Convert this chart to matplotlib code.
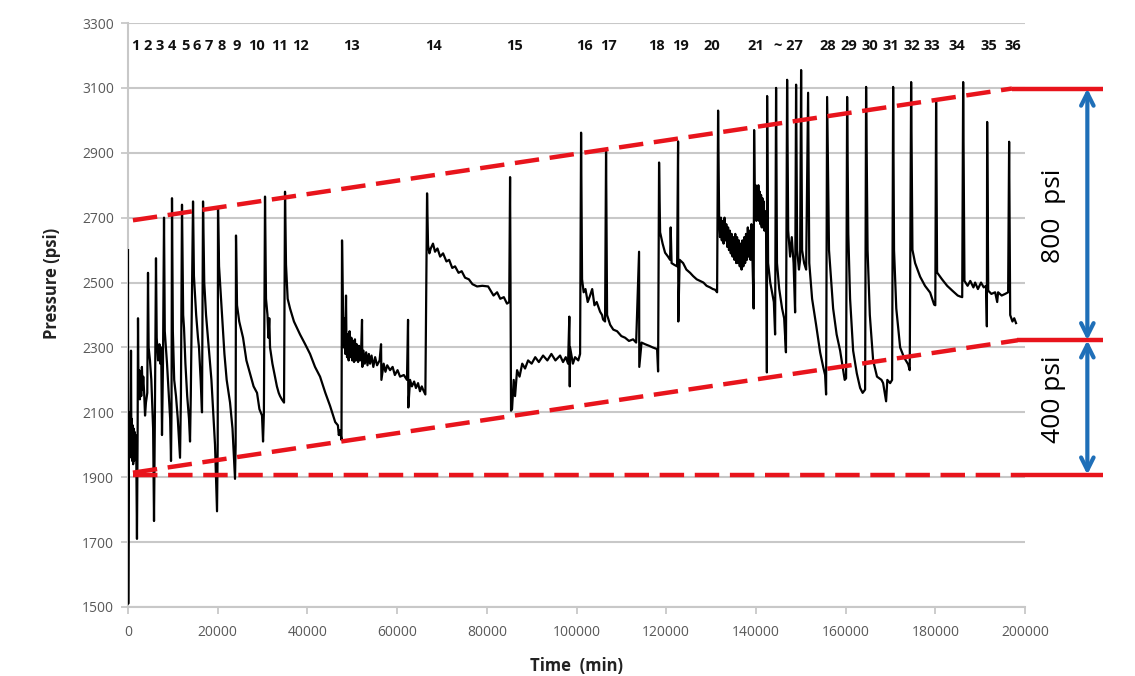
import matplotlib
matplotlib.use("Agg")
import matplotlib.pyplot as plt

# ---------------- data ----------------
time_min = [
    0, 50, 150, 250, 350, 450, 550, 670, 750, 850, 950, 1050, 1150, 1250, 1350, 1450, 1550, 1700, 1850, 2000,
    2150, 2230, 2350, 2500, 2650, 2800, 2950, 3100, 3250, 3400, 3600, 3800, 4000,
    4300, 4460, 4600, 4900, 5200, 5600, 5800, 6000, 6240, 6400, 6700, 7000, 7200, 7400, 7580, 7800, 8030, 8200, 8700,
    9100, 9400, 9590, 9700, 9810, 10000, 10300, 10700, 11100, 11600, 11800, 12040, 12300, 12490, 12800, 13200, 13600,
    13830, 14000, 14500, 14700, 15200, 15600, 15830, 16200, 16500, 16730, 17000, 17400, 18000, 18600, 19000, 19400,
    19850, 20000, 20070, 20300, 20960, 21500, 22000, 22750, 23300, 23860, 24000, 24080, 24310, 24800, 25650, 26400,
    27210, 28000, 28770, 29300, 29880, 30110, 30300, 30550, 30770, 31100, 31300, 31500, 31670, 32200, 32780, 33200,
    33600, 33900, 34300, 34790, 35010, 35230, 35600, 36130, 37000, 38360, 39500, 40590, 41700, 42820, 44000, 45050,
    46200, 46800, 47000, 47280, 47600, 47720,
    47950, 48100, 48300, 48450, 48610, 48700, 48840, 49000, 49200, 49400, 49600, 49800, 50000, 50200, 50400, 50600,
    50800, 51000, 51300, 51500, 51740, 52000, 52180, 52250, 52500, 52800, 53100, 53400, 53700, 53970, 54300, 54700,
    55100, 55530, 56100, 56420, 56500, 57000, 57400, 57800, 58430, 59000, 59500, 60100, 60660, 61500, 62200, 62440,
    62500, 62890, 63300, 63800, 64200, 64670, 65100, 65500, 65790, 66300, 66680,
    66900, 67200, 67500, 68000, 68460, 69000, 69600, 70250, 71000, 71600, 72300, 72920, 73700, 74400, 75150, 76000,
    76800, 77830, 79000, 80300, 81500, 82300, 83000, 83800, 84500, 85000, 85190,
    85400, 85630, 86000, 86300, 86750, 87300, 87900, 88530, 89200, 90000, 90800, 91600, 92550, 93500, 94400, 95300,
    96340, 97000, 97600, 98120, 98400, 98500, 98570, 99200, 99680, 100400, 100800, 101020,
    101240, 101600, 102000, 102500, 103030, 103500, 104000, 104500, 105260, 105700, 105930, 106370, 106590,
    106820, 107500, 108200, 109050, 110000, 110830, 111700, 112620, 113300, 113950, 114000, 114500, 115290, 116200,
    117000, 117970, 118190, 118410,
    118640, 119200, 119750, 120400, 120870, 121000, 121200, 121760, 122430, 122650, 122700,
    123000, 123770, 124500, 125330, 126000, 126800, 127560, 128300, 129000, 129790, 130400, 130900, 131350, 131570,
    131800, 132000, 132200, 132400, 132600, 132800, 133000, 133200, 133400, 133600, 133800, 134000, 134200, 134400,
    134600, 134800, 135000, 135200, 135400, 135600, 135800, 136000, 136200, 136400, 136600, 136800, 137000, 137200,
    137400, 137600, 137800, 138000, 138200, 138400, 138600, 138800, 139000, 139200, 139500, 139600, 139800, 139950,
    140100, 140250, 140400, 140550, 140700, 140850, 141000, 141150, 141300, 141450, 141600, 141750, 141900, 142050,
    142300, 142450, 142500,
    142720, 143200, 143610, 144000, 144280, 144500, 144700, 145200, 145840, 146300, 146700, 146960, 147200, 147630,
    148000, 148400, 148740, 148960, 149200, 149600, 149860, 150080, 150300, 150750, 151200, 151640, 151900, 152530,
    153420, 154320, 155000, 155430, 155650, 155880, 156300, 157220, 158000, 158780, 159450, 159800, 160110, 160340,
    160600, 161000, 161680, 162500, 163240, 163800, 164350, 164570, 164900, 165400, 166140, 167000, 168000, 168370,
    169030, 169300, 169930, 170370, 170600, 170800, 171300, 172160, 173000, 173940, 174300, 174610, 174900, 175500,
    176620, 177700, 178850, 179740, 180000, 180180, 180400, 181500, 182640, 183800, 185000, 185540, 186000, 186210,
    186500, 187200, 187800, 188500, 188880, 189500, 190200, 190800, 191330, 191500, 191560, 191800, 192500, 193340,
    193800, 194000, 194800, 195570, 196240, 196460, 196700, 197200, 197600, 198000,
]
pressure_psi = [
    2600, 1510, 1900, 2080, 1960, 2100, 1980, 2290, 1990, 2080, 1950, 2060, 1940, 2050, 1950, 2040, 1960, 2030, 1960, 1710,
    2050, 2390, 2150, 2230, 2140, 2220, 2150, 2240, 2170, 2210, 2160, 2090, 2130,
    2160, 2530, 2300, 2260, 2200, 2050, 1765, 2100, 2575, 2330, 2260, 2310, 2250, 2300, 2030, 2250, 2700, 2350, 2250,
    2150, 2080, 1950, 2100, 2760, 2350, 2200, 2150, 2080, 1960, 2150, 2740, 2400, 2360, 2250, 2150, 2080,
    2010, 2150, 2750, 2520, 2400, 2330, 2300, 2200, 2100, 2750, 2500, 2400, 2300, 2200, 2100, 2000,
    1795, 2000, 2730, 2550, 2400, 2280, 2200, 2130, 2050, 1895, 2000, 2645, 2430, 2380, 2330, 2260,
    2220, 2180, 2160, 2110, 2090, 2010, 2100, 2765, 2450, 2400, 2330, 2390, 2300, 2250, 2210, 2180,
    2160, 2150, 2140, 2130, 2780, 2555, 2450, 2420, 2380, 2340, 2310, 2280, 2240, 2210, 2160, 2120,
    2070, 2060, 2030, 2045, 2015, 2630,
    2410, 2300, 2390, 2280, 2460, 2330, 2270, 2340, 2260, 2350, 2270, 2330, 2260, 2320, 2255, 2325,
    2260, 2310, 2255, 2305, 2260, 2300, 2385, 2240, 2290, 2250, 2285, 2245, 2280, 2250, 2275, 2240,
    2270, 2245, 2260, 2310, 2200, 2250, 2225, 2245, 2230, 2240, 2215, 2230, 2210, 2215, 2200, 2385,
    2115, 2200, 2180, 2195, 2175, 2190, 2165, 2180, 2170, 2155, 2775,
    2615, 2590, 2605, 2620, 2595, 2605, 2580, 2590, 2565, 2570, 2545, 2550, 2530, 2535, 2515, 2510,
    2495, 2488, 2490, 2488, 2460, 2470, 2450, 2455, 2435, 2440, 2825,
    2105, 2110, 2200, 2150, 2230, 2210, 2250, 2235, 2260, 2250, 2270, 2255, 2275, 2260, 2280, 2260,
    2275, 2255, 2270, 2250, 2395, 2180, 2300, 2250, 2270, 2260, 2280, 2962,
    2510, 2470, 2480, 2440, 2460, 2480, 2430, 2440, 2410, 2400, 2386, 2380, 2905,
    2400, 2370, 2355, 2350, 2335, 2330, 2320, 2325, 2315, 2595, 2240, 2315, 2310, 2305,
    2300, 2295, 2226, 2870,
    2655, 2620, 2592, 2580, 2570, 2670, 2560, 2555, 2550, 2935, 2380,
    2570, 2560, 2540, 2530, 2520, 2510, 2505, 2500, 2490, 2485, 2480, 2478, 2470, 3030,
    2700, 2640, 2700, 2630, 2690, 2620, 2700, 2630, 2680, 2610, 2670, 2600, 2660, 2590,
    2650, 2580, 2640, 2570, 2650, 2560, 2640, 2560, 2630, 2550, 2620, 2540, 2630, 2550,
    2640, 2560, 2650, 2570, 2670, 2580, 2660, 2570, 2680, 2590, 2420, 2970, 2700, 2800,
    2690, 2790, 2700, 2800, 2690, 2780, 2680, 2770, 2670, 2760, 2670, 2750, 2660, 2720,
    2640, 2223, 3075,
    2560, 2500, 2470, 2440, 2340, 3100, 2560, 2480, 2420, 2390, 2285, 3125, 2660, 2580,
    2640, 2560, 2408, 3110, 2600, 2540, 2570, 3155, 2600, 2560, 2540, 3085, 2560, 2450,
    2370, 2285, 2240, 2215, 2155, 3072, 2600, 2420, 2340, 2290, 2232, 2200, 2205, 3072,
    2650, 2450, 2290, 2220, 2175, 2160, 2170, 3103, 2600, 2400, 2260, 2210, 2200, 2190,
    2134, 2200, 2190, 2200, 3103, 2600, 2420, 2300, 2270, 2248, 2230, 3118, 2601, 2560,
    2518, 2490, 2469, 2432, 2430, 3057, 2531, 2510, 2490, 2475, 2460, 2457, 2455, 3118,
    2505, 2490, 2505, 2485, 2500, 2480, 2500, 2485, 2490, 2365, 2995, 2475, 2465, 2470,
    2440, 2470, 2460, 2465, 2470, 2934, 2400, 2380, 2390, 2375,
]

event_labels = ["1", "2", "3", "4", "5", "6", "7", "8", "9", "10", "11", "12", "13", "14", "15", "16", "17",
                "18", "19", "20", "21", "~ 27", "28", "29", "30", "31", "32", "33", "34", "35", "36"]
event_times = [1560, 4460, 7150, 9810, 12700, 15380, 18060, 20960, 24300, 28550, 33670, 38360, 49730, 68010,
               86080, 101690, 107040, 117750, 123100, 130230, 140040, 147180, 156100, 160780, 165470, 170150,
               174830, 179290, 184870, 192000, 197350]

upper_env_t = [1100, 197100, 217400]
upper_env_p = [2692, 3098, 3098]
lower_env_t = [1100, 198300, 217400]
lower_env_p = [1914, 2322, 2322]
base_env_t = [1100, 198300, 217400]
base_env_p = [1908, 1908, 1908]

arrow_t = 213900
span_labels = ["800  psi", "400 psi"]

x_ticks = [0, 20000, 40000, 60000, 80000, 100000, 120000, 140000, 160000, 180000, 200000]
y_ticks = [1500, 1700, 1900, 2100, 2300, 2500, 2700, 2900, 3100, 3300]

# ---------------- drawing ----------------
plt.rcParams['font.family'] = ['Open Sans', 'DejaVu Sans']
fig = plt.figure(figsize=(11.35, 6.76), dpi=100)
ax = fig.add_axes([128 / 1135, 1 - 607 / 676, (1025 - 128) / 1135, (607 - 23) / 676])
ax.set_xlim(0, 200000)
ax.set_ylim(1500, 3300)

grid_c = '#c8c8c8'
ax.set_yticks(y_ticks)
ax.set_xticks(x_ticks)
ax.yaxis.grid(True, color=grid_c, lw=1.5)
ax.set_axisbelow(True)
for s in ['top', 'right']:
    ax.spines[s].set_visible(False)
for s in ['left', 'bottom']:
    ax.spines[s].set_color(grid_c)
    ax.spines[s].set_linewidth(1.5)
ax.tick_params(axis='both', colors=grid_c, length=5, width=1.3, direction='out')
ax.tick_params(axis='both', labelcolor='#595959', labelsize=10)
ax.tick_params(axis='y', pad=5)
ax.tick_params(axis='x', pad=8)

ax.plot(time_min, pressure_psi, color='black', lw=1.6, zorder=3)

red = '#e8141c'
for tt, pp in [(upper_env_t, upper_env_p), (lower_env_t, lower_env_p), (base_env_t, base_env_p)]:
    ax.plot(tt[:2], pp[:2], color=red, lw=3.2, ls=(0, (5.5, 2.4)), zorder=4, clip_on=False)
    ax.plot(tt[1:], pp[1:], color=red, lw=3.2, ls='-', zorder=4, clip_on=False, solid_capstyle='butt')

blue = '#1f6fb8'
for p0, p1 in [(upper_env_p[2], lower_env_p[2]), (lower_env_p[2], base_env_p[2])]:
    ax.annotate('', xy=(arrow_t, p1), xytext=(arrow_t, p0), annotation_clip=False,
                arrowprops=dict(arrowstyle='<->,head_length=0.9,head_width=0.45', color=blue, lw=3,
                                shrinkA=0, shrinkB=0), zorder=5)
ax.text(206300, 2705, span_labels[0], rotation=90, ha='center', va='center', fontsize=19, clip_on=False)
ax.text(206300, 2140, span_labels[1], rotation=90, ha='center', va='center', fontsize=19, clip_on=False)

for lab, t in zip(event_labels, event_times):
    ax.text(t, 3228, lab, ha='center', va='center', fontsize=10.5, fontweight='bold', color='#111111')

ax.set_xlabel('Time  (min)', fontsize=12, fontweight='bold', labelpad=12, color='#222222')
ax.set_ylabel('Pressure (psi)', fontsize=12, fontweight='bold', color='#222222')
ax.yaxis.set_label_coords(-0.075, (2497 - 1500) / 1800)

fig.savefig('out.png', dpi=100)
